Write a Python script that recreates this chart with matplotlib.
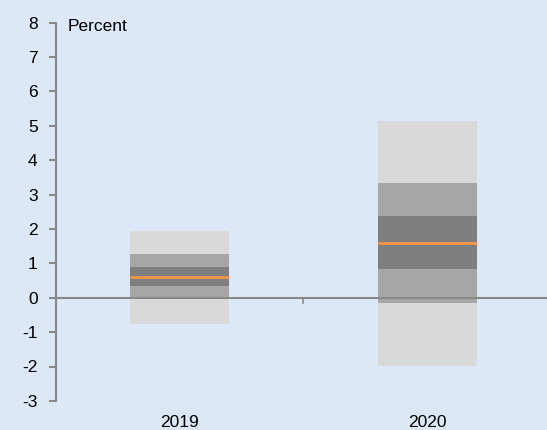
import matplotlib
matplotlib.use("Agg")
import matplotlib.pyplot as plt

years = ["2019", "2020"]
outer_low = [-0.76, -1.99]
outer_high = [1.95, 5.14]
mid_low = [-0.03, -0.15]
mid_high = [1.26, 3.34]
inner_low = [0.33, 0.83]
inner_high = [0.89, 2.38]
median = [0.60, 1.60]
yticks = [-3, -2, -1, 0, 1, 2, 3, 4, 5, 6, 7, 8]

bg = "#dce8f7"
plt.rcParams["font.family"] = ["Liberation Sans", "DejaVu Sans"]

fig = plt.figure(figsize=(5.47, 4.30), dpi=100, facecolor=bg)
ax = fig.add_axes([55.8/547, 29.1/430, 491.2/547, 378.4/430], facecolor=bg)

x = list(range(len(years)))
w = 0.40
ax.bar(x, [h - l for h, l in zip(outer_high, outer_low)], bottom=outer_low, width=w, color="#d9d9d9", zorder=2)
ax.bar(x, [h - l for h, l in zip(mid_high, mid_low)], bottom=mid_low, width=w, color="#a6a6a6", zorder=3)
ax.bar(x, [h - l for h, l in zip(inner_high, inner_low)], bottom=inner_low, width=w, color="#7f7f7f", zorder=4)
for xi, m in zip(x, median):
    ax.hlines(m, xi - w/2, xi + w/2, color="#f79646", linewidth=2, zorder=5)

ax.axhline(0, color="#888888", linewidth=1.5, zorder=6)
# category separator tick
ax.plot([0.5, 0.5], [0, -0.16], color="#888888", linewidth=1.2, zorder=6)

ax.set_xlim(-0.5, 1.5 - 3.75/247.5)
ax.set_ylim(-3, 8)
ax.set_yticks(yticks)
ax.set_yticklabels([str(t) for t in yticks], fontsize=12.5)
ax.set_xticks(x)
ax.set_xticklabels(years, fontsize=12.5)
ax.tick_params(axis="x", length=0, pad=10)
ax.tick_params(axis="y", length=5, width=1.5, color="#888888", pad=8, direction="out")
for s in ["top", "right", "bottom"]:
    ax.spines[s].set_visible(False)
ax.spines["left"].set_color("#888888")
ax.spines["left"].set_linewidth(1.5)

ax.text(-0.5 + 11.5/247.5, 7.88, "Percent", fontsize=12.5, va="center", ha="left")

fig.savefig("out.png", dpi=100, facecolor=bg)
